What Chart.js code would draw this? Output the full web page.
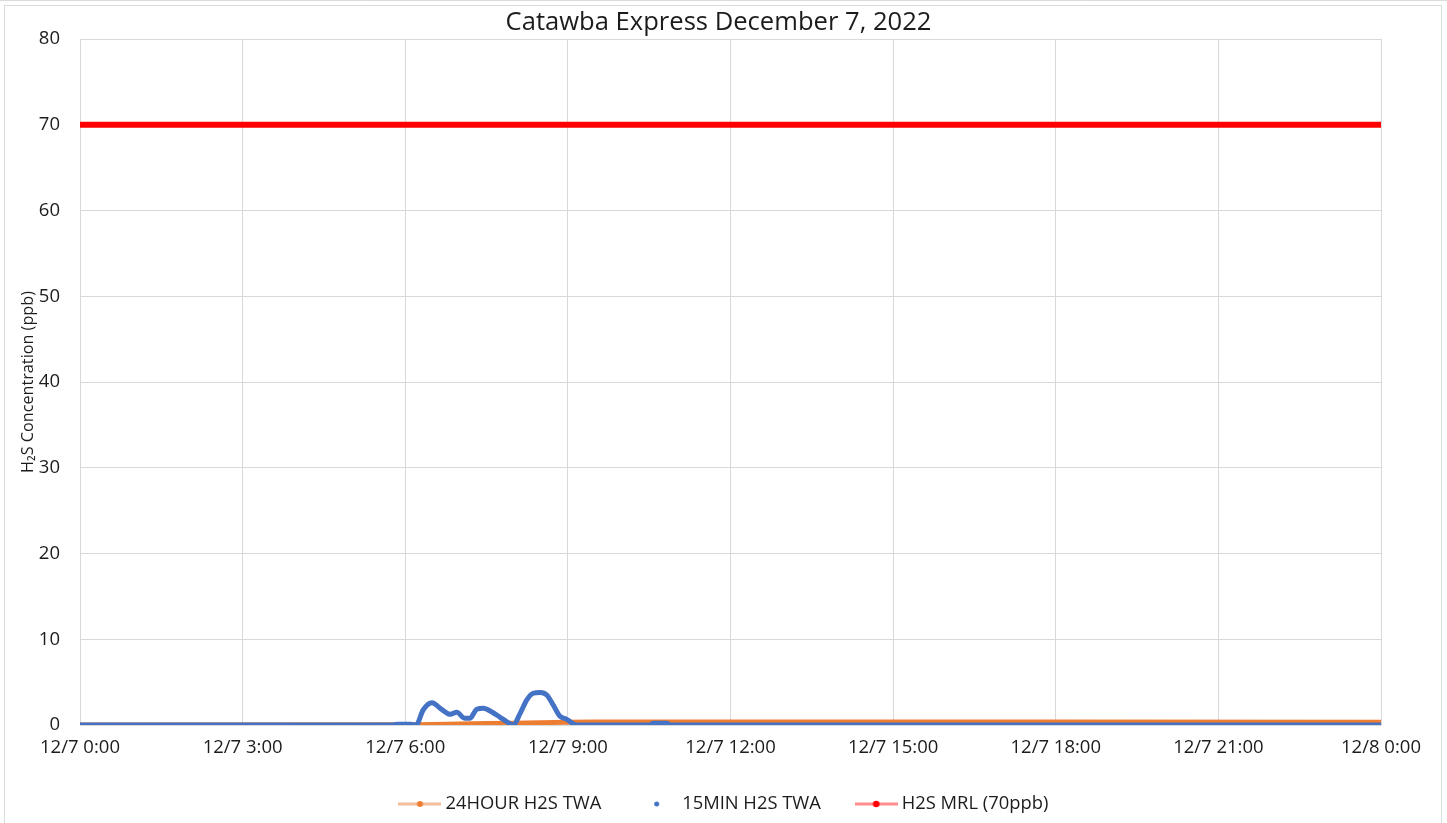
<!DOCTYPE html>
<html>
<head>
<meta charset="utf-8">
<script src="https://cdn.jsdelivr.net/npm/chart.js@4.4.0/dist/chart.umd.min.js"></script>
<style>
  html, body { margin: 0; padding: 0; background: #ffffff; }
  #wrap { position: relative; width: 1447px; height: 823px; }
</style>
</head>
<body>
<div id="wrap"><canvas id="chart"></canvas></div>
<script>
// ---------------- data ----------------
const chartTitle = 'Catawba Express December 7, 2022';
const yAxisTitle = 'H\u2082S Concentration (ppb)';
const xTickLabels = ['12/7 0:00', '12/7 3:00', '12/7 6:00', '12/7 9:00', '12/7 12:00',
                     '12/7 15:00', '12/7 18:00', '12/7 21:00', '12/8 0:00'];
const seriesNames = ['24HOUR H2S TWA', '15MIN H2S TWA', 'H2S MRL (70ppb)'];

// hours since 12/7 0:00
const twa24Hours  = [0, 6.2, 6.5, 7.0, 7.5, 8.0, 8.5, 9.0, 9.5, 12, 18, 24];
const twa24Values = [0, 0.02, 0.06, 0.12, 0.17, 0.21, 0.27, 0.33, 0.35, 0.35, 0.34, 0.33];

const twa15Hours  = [0, 5.75, 5.85, 6.1, 6.2, 6.33, 6.49, 6.67, 6.83, 6.95, 7.1, 7.19, 7.32, 7.44,
                     7.59, 7.75, 7.87, 7.99, 8.12, 8.24, 8.36, 8.49, 8.61, 8.73, 8.85, 8.98, 9.16,
                     10.5, 10.58, 10.82, 10.9, 24];
const twa15Values = [0, 0, 0.1, 0.1, 0, 1.75, 2.6, 1.83, 1.25, 1.48, 0.78, 0.78, 1.83, 1.95,
                     1.55, 0.9, 0.4, 0, 1.36, 2.9, 3.7, 3.8, 3.5, 2.33, 1.05, 0.66, 0,
                     0, 0.2, 0.2, 0, 0];

const mrlHours  = [0, 24];
const mrlValues = [70, 70];

// ---------------- styling helpers ----------------
const FAMILY = "'Open Sans', sans-serif";
const TEXT = '#1c1c1c';
const GRID = '#d9d9d9';
const COLORS = ['#ED7D31', '#4472C4', '#FF0000'];

function fitSize(text, targetWidth) {
  const g = document.createElement('canvas').getContext('2d');
  g.font = '100px ' + FAMILY;
  return 100 * targetWidth / g.measureText(text).width;
}
const titleSize  = fitSize(chartTitle, 426);
const tickSize   = fitSize(xTickLabels[0], 80);
const legendSize = fitSize(seriesNames[0], 156);
const yTitleSize = fitSize(yAxisTitle, 182);

function toPoints(xs, ys) { return xs.map((x, i) => ({ x: x, y: ys[i] })); }

function makeIcon(dotColor, lineColor, dotR) {
  const c = document.createElement('canvas');
  c.width = 43; c.height = 10;
  const g = c.getContext('2d');
  if (lineColor) {
    g.strokeStyle = lineColor; g.lineWidth = 3;
    g.beginPath(); g.moveTo(0, 5); g.lineTo(43, 5); g.stroke();
  }
  g.fillStyle = dotColor;
  g.beginPath(); g.arc(21.5, 5, dotR, 0, Math.PI * 2); g.fill();
  return c;
}
const legendIcons = [
  makeIcon(COLORS[0], 'rgba(237,125,49,0.5)', 3),
  makeIcon(COLORS[1], null, 2.5),
  makeIcon(COLORS[2], 'rgba(255,0,0,0.45)', 3.3)
];

// layout targets
const PAD_L = 0, PAD_R = 10;
const PLOT_LEFT = 80, PLOT_TOP = 39, PLOT_RIGHT = 1381, PLOT_BOTTOM = 725;
const W = 1447, H = 823;
const LEGEND_TEXT_Y = 804;
const legendPadding = 39;
const legendPSW = Math.max(10, 51 - legendSize);
const titleLH = titleSize * 1.2;
const titlePadTop = 23 - titleLH / 2;
const titlePadBottom = Math.max(0, PLOT_TOP - titlePadTop - titleLH);
const yTitleLH = yTitleSize * 1.2;

const frame = {
  id: 'frame',
  beforeDraw(chart) {
    const ctx = chart.ctx;
    ctx.save();
    ctx.strokeStyle = '#dcdcdc';
    ctx.lineWidth = 1;
    ctx.beginPath(); ctx.moveTo(0, 0.5); ctx.lineTo(W, 0.5); ctx.stroke();
    ctx.strokeRect(4.5, 5.5, 1437, 840);
    ctx.restore();
  }
};
const legendShift = {
  id: 'legendShift',
  afterLayout(chart) {
    const l = chart.legend;
    if (l) {
      const dy = (LEGEND_TEXT_Y - legendPadding - legendSize / 2) - l.top;
      l.left += 7.5; l.right += 7.5;
      l.top += dy; l.bottom += dy;
    }
  }
};

new Chart(document.getElementById('chart'), {
  type: 'line',
  data: {
    datasets: [
      {
        label: seriesNames[0],
        data: toPoints(twa24Hours, twa24Values),
        borderColor: COLORS[0], backgroundColor: COLORS[0],
        borderWidth: 5, pointRadius: 0, borderCapStyle: 'round', borderJoinStyle: 'round',
        order: 3
      },
      {
        label: seriesNames[1],
        data: toPoints(twa15Hours, twa15Values),
        borderColor: COLORS[1], backgroundColor: COLORS[1],
        borderWidth: 5, pointRadius: 0, borderCapStyle: 'round', borderJoinStyle: 'round',
        cubicInterpolationMode: 'monotone',
        order: 2
      },
      {
        label: seriesNames[2],
        data: toPoints(mrlHours, mrlValues),
        borderColor: COLORS[2], backgroundColor: COLORS[2],
        borderWidth: 6, pointRadius: 0, borderCapStyle: 'round',
        order: 1
      }
    ]
  },
  options: {
    responsive: true,
    maintainAspectRatio: false,
    animation: false,
    events: [],
    layout: { padding: { left: PAD_L, right: PAD_R, top: 0, bottom: 0 } },
    plugins: {
      tooltip: { enabled: false },
      title: {
        display: true,
        text: chartTitle,
        color: TEXT,
        font: { family: FAMILY, size: titleSize, weight: 'normal', lineHeight: 1.2 },
        padding: { top: titlePadTop, bottom: titlePadBottom }
      },
      legend: {
        position: 'bottom',
        labels: {
          usePointStyle: true,
          pointStyleWidth: legendPSW,
          padding: legendPadding,
          color: TEXT,
          font: { family: FAMILY, size: legendSize },
          generateLabels(chart) {
            return chart.data.datasets.map((ds, i) => ({
              text: ds.label,
              pointStyle: legendIcons[i],
              fillStyle: COLORS[i],
              strokeStyle: COLORS[i],
              lineWidth: 0,
              hidden: false,
              datasetIndex: i,
              fontColor: TEXT
            }));
          }
        }
      }
    },
    scales: {
      x: {
        type: 'linear',
        min: 0, max: 24,
        afterFit(scale) {
          const lg = scale.chart.legend;
          const lh = lg && lg.height ? lg.height : (legendSize + legendPadding + 10);
          scale.height = H - lh - PLOT_BOTTOM;
        },
        grid: { color: GRID, lineWidth: 1, drawTicks: false },
        border: { display: true, color: GRID },
        ticks: {
          stepSize: 3,
          autoSkip: false,
          maxRotation: 0,
          padding: 22.5 - tickSize * 0.6,
          color: TEXT,
          font: { family: FAMILY, size: tickSize },
          callback(v) { return xTickLabels[Math.round(v / 3)]; }
        }
      },
      y: {
        type: 'linear',
        position: 'left',
        min: 0, max: 80,
        afterFit(scale) { scale.width = PLOT_LEFT - PAD_L; },
        grid: { color: GRID, lineWidth: 1, drawTicks: false },
        border: { display: true, color: GRID },
        ticks: {
          stepSize: 10,
          padding: 20,
          color: TEXT,
          font: { family: FAMILY, size: tickSize }
        },
        title: {
          display: true,
          text: yAxisTitle,
          color: TEXT,
          font: { family: FAMILY, size: yTitleSize, lineHeight: 1.2 },
          padding: { top: 28.5 - PAD_L - yTitleLH / 2, bottom: 0 }
        }
      },
      yRight: {
        type: 'linear',
        position: 'right',
        display: true,
        afterFit(scale) { scale.width = W - PAD_R - PLOT_RIGHT; },
        grid: { display: false, drawTicks: false },
        border: { display: false },
        ticks: { display: false }
      }
    }
  },
  plugins: [frame, legendShift]
});
</script>
</body>
</html>
